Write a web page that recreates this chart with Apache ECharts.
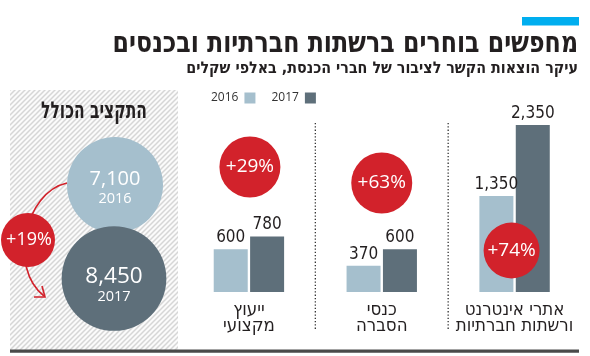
<!DOCTYPE html>
<html><head><meta charset="utf-8">
<script src="https://cdn.jsdelivr.net/npm/echarts@6/dist/echarts.min.js"></script>
<style>html,body{margin:0;padding:0;background:#fff}#c{width:590px;height:356px}</style>
</head><body><div id="c"></div>
<script>
// ---- data ----
const categories = ['ייעוץ\nמקצועי', 'כנסי\nהסברה', 'אתרי אינטרנט\nורשתות חברתיות'];
const seriesNames = ['2016', '2017'];
const values2016 = [600, 370, 1350];
const values2017 = [780, 600, 2350];
const changeLabels = ['+29%', '+63%', '+74%'];
const totalYears = ['2016', '2017'];
const totals = [7100, 8450];
const totalChange = '+19%';
const titleText = 'מחפשים בוחרים ברשתות חברתיות ובכנסים';
const subtitleText = 'עיקר הוצאות הקשר לציבור של חברי הכנסת, באלפי שקלים';
const panelTitle = 'התקציב הכולל';

// ---- styles ----
const LIGHT = '#a5bfcd', DARK = '#5e6f7a', RED = '#d2222b', TXT = '#231f20';
const FONT = '"Liberation Sans Narrow","DejaVu Sans Condensed","Liberation Sans",sans-serif';
const NUMFONT = '"Open Sans","Noto Sans",sans-serif';

function fmt(v){ return v.toLocaleString('en-US'); }

// hatch pattern
const pc = document.createElement('canvas');
pc.width = 5; pc.height = 5;
const pctx = pc.getContext('2d');
pctx.fillStyle = '#fbfbfb'; pctx.fillRect(0,0,5,5);
pctx.strokeStyle = '#d6d6d6'; pctx.lineWidth = 1.5;
pctx.beginPath();
pctx.moveTo(-1,6); pctx.lineTo(6,-1);
pctx.moveTo(-1,1); pctx.lineTo(1,-1);
pctx.moveTo(4,6); pctx.lineTo(6,4);
pctx.stroke();

const chart = echarts.init(document.getElementById('c'), null, {renderer:'canvas'});

const barLabel = {show: true, position: 'top', distance: 3, fontFamily: FONT, fontSize: 17, color: TXT, formatter: p => fmt(p.value)};
const option = {
  animation: false,
  backgroundColor: '#fff',
  textStyle: {fontFamily: FONT},
  legend: {
    left: 206, top: 87, itemWidth: 11, itemHeight: 11, itemGap: 16,
    align: 'right', icon: 'rect',
    textStyle: {fontFamily: NUMFONT, fontSize: 12, color: '#333', padding:[0,1,0,0]},
    data: seriesNames
  },
  grid: {left: 182.5, right: 9, top: 78.67, bottom: 64},
  xAxis: {
    type: 'category', data: categories,
    axisLine: {show: false}, axisTick: {show: false}, splitLine: {show:false},
    axisLabel: {margin: 10, fontFamily: FONT, fontSize: 18.5, lineHeight: 16, color: TXT, interval: 0}
  },
  yAxis: {type: 'value', min: 0, max: 3000, show: false},
  series: [
    {name: seriesNames[0], type: 'bar', data: values2016, barWidth: 34, barGap: '7%',
     itemStyle: {color: LIGHT}, label: barLabel},
    {name: seriesNames[1], type: 'bar', data: values2017, barWidth: 34,
     itemStyle: {color: DARK}, label: barLabel}
  ]
};
chart.setOption(option);

// ---- annotations ----
const pctY = [167, 183, 250.5];
const pctR = [30.5, 30.5, 28];
const pctDx = [1, 0, -3];
const g = [];

// top accent bar
g.push({type:'rect', shape:{x:522, y:17, width:57, height:8.5}, style:{fill:'#00aeef'}});
// title + subtitle
g.push({type:'text', x:578, y:44, scaleX:0.907, style:{text:titleText, fill:TXT, font:'bold 29px '+FONT, align:'right', verticalAlign:'middle'}});
g.push({type:'text', x:578, y:68.5, style:{text:subtitleText, fill:TXT, font:'bold 15.9px '+FONT, align:'right', verticalAlign:'middle'}});

// left hatch panel
g.push({type:'rect', z:0, shape:{x:10, y:90, width:168, height:260}, style:{fill:{image: pc, repeat:'repeat'}}});
g.push({type:'text', x:94, y:112, scaleX:0.75, style:{text:panelTitle, fill:TXT, font:'bold 23px '+FONT, align:'center', verticalAlign:'middle'}});

// total circles (area proportional)
const baseR = 48;
const circ = [{cx:115, cy:185, dv:-5.5, dy:13.5, fs:20}, {cx:114, cy:278.5, dv:-2, dy:18.5, fs:22.5}];
[0,1].forEach(i => {
  const r = baseR * Math.sqrt(totals[i] / totals[0]);
  const c = circ[i];
  g.push({type:'circle', z:2+i, shape:{cx:c.cx, cy:c.cy, r:r}, style:{fill: i===0?LIGHT:DARK}});
  g.push({type:'text', z:5, x:c.cx, y:c.cy+c.dv, style:{text:fmt(totals[i]), fill:'#fff', font:c.fs+'px '+NUMFONT, align:'center', verticalAlign:'middle'}});
  g.push({type:'text', z:5, x:c.cx, y:c.cy+c.dy, style:{text:totalYears[i], fill:'#fff', font:'14.5px '+NUMFONT, align:'center', verticalAlign:'middle'}});
});
// arrow
g.push({type:'bezierCurve', z:6, shape:{x1:67, y1:183, cpx1:25, cpy1:192, cpx2:8, cpy2:268, x2:44, y2:296}, style:{stroke:RED, lineWidth:1.6, fill:null}});
g.push({type:'polyline', z:6, shape:{points:[[34,297],[45,297],[42,286]]}, style:{stroke:RED, lineWidth:1.6, fill:null}});
g.push({type:'circle', z:7, shape:{cx:28, cy:240, r:27}, style:{fill:RED}});
g.push({type:'text', z:8, x:29, y:240, style:{text:totalChange, fill:'#fff', font:'18px '+NUMFONT, align:'center', verticalAlign:'middle'}});

// separators + pct circles
const xs = categories.map((c,i) => chart.convertToPixel({xAxisIndex:0}, i));
for (let i = 0; i < xs.length - 1; i++) {
  const x = (xs[i] + xs[i+1]) / 2;
  g.push({type:'line', shape:{x1:x, y1:123, x2:x, y2:330}, style:{stroke:'#333', lineWidth:1.3, lineDash:[1.3,2]}});
}
xs.forEach((x,i) => {
  g.push({type:'circle', z:10, shape:{cx:x+pctDx[i], cy:pctY[i], r:pctR[i]}, style:{fill:RED}});
  g.push({type:'text', z:11, x:x+pctDx[i], y:pctY[i], style:{text:changeLabels[i], fill:'#fff', font:'19px '+NUMFONT, align:'center', verticalAlign:'middle'}});
});
// bottom rule
g.push({type:'rect', shape:{x:10, y:349.5, width:569, height:3.2}, style:{fill:'#4a4a4a'}});

chart.setOption({graphic: {elements: g}});
</script>
</body></html>
